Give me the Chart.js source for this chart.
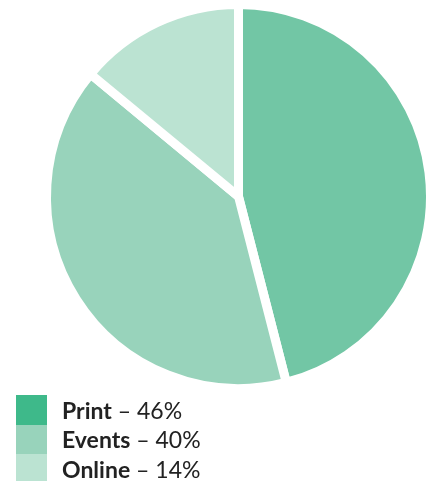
<!DOCTYPE html>
<html>
<head>
<meta charset="utf-8">
<script src="https://cdn.jsdelivr.net/npm/chart.js@4"></script>
<style>
  body { margin: 0; background: #fff; }
  #wrap { position: relative; width: 435px; height: 481px; }
  #legend { position: absolute; left: 16px; top: 395px; font-family: Lato, sans-serif; font-size: 23px; color: #222; }
  .row { display: flex; align-items: center; height: 29.5px; }
  .sw { width: 31px; height: 29.5px; margin-right: 15px; }
  .row b { font-weight: 700; }
</style>
</head>
<body>
<div id="wrap">
  <canvas id="myChart" width="435" height="481"></canvas>
  <div id="legend"></div>
</div>
<script>
// Quote per canale
const labels = ['Print', 'Events', 'Online'];
const values = [46, 40, 14];
const sliceColors = ['#72c6a5', '#98d3bb', '#bbe3d2'];
const keyColors = ['#3eb98a', '#98d3bb', '#bbe3d2'];

// Legenda sotto il grafico
let show = "";
for (let i in labels) {
    show += `<div class="row"><span class="sw" style="background:${keyColors[i]}"></span><span><b>${labels[i]}</b> – ${values[i]}%</span></div>`;
}
document.getElementById("legend").innerHTML = show;

const ctx = document.getElementById('myChart').getContext('2d');
const myChart = new Chart(ctx, {
    type: 'pie',
    data: {
        labels: labels,
        datasets: [{
            data: values,
            backgroundColor: sliceColors,
            borderColor: '#ffffff',
            borderWidth: 9
        }]
    },
    options: {
        responsive: false,
        animation: false,
        layout: {
            padding: { left: 42, right: 0, top: 0, bottom: 88 }
        },
        plugins: {
            legend: { display: false },
            tooltip: { enabled: false }
        }
    }
});
</script>
</body>
</html>
